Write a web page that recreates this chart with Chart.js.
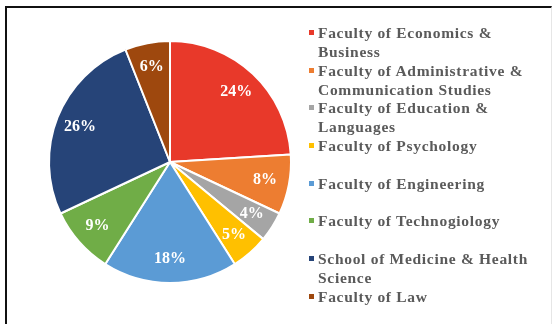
<!DOCTYPE html>
<html lang="en">
<head>
    <meta charset="UTF-8">
    <title>Students by Faculty</title>
    <script src="https://cdn.jsdelivr.net/npm/chart.js"></script>
    <style>
        html, body { margin: 0; padding: 0; background: #fff; }
        .frame {
            position: absolute;
            left: 5px; top: 6px;
            width: 547px; height: 330px;
            border-top: 2px solid #111;
            border-left: 2px solid #111;
            border-right: 1px solid #e6e6e6;
            box-sizing: border-box;
        }
        .wrap { position: relative; width: 557px; height: 324px; overflow: hidden; }
        #pie { position: absolute; left: 0; top: 0; }
        #legend {
            position: absolute;
            left: 309px; top: 23px;
            font-family: "Liberation Serif", "Times New Roman", serif;
            font-weight: bold;
            font-size: 15.5px;
            letter-spacing: 0.7px;
            color: #5a5a5a;
            white-space: nowrap;
        }
        .item { position: relative; height: 37.7px; line-height: 19px; padding-left: 9px; }
        .item .box { position: absolute; left: 0; top: 7px; width: 5px; height: 5px; }
    </style>
</head>
<body>
<div class="wrap">
    <div class="frame"></div>
    <canvas id="pie" width="557" height="324"></canvas>
    <div id="legend"></div>
</div>

<script>
    // faculty names, split where the legend wraps them
    const faculties = [
        ["Faculty of Economics &", "Business"],
        ["Faculty of Administrative &", "Communication Studies"],
        ["Faculty of Education &", "Languages"],
        ["Faculty of Psychology"],
        ["Faculty of Engineering"],
        ["Faculty of Technogiology"],
        ["School of Medicine & Health", "Science"],
        ["Faculty of Law"]
    ];
    const shares = [24, 8, 4, 5, 18, 9, 26, 6];
    const colors = ["#E8392A", "#ED7D31", "#A5A5A5", "#FFC000", "#5B9BD5", "#70AD47", "#264478", "#9E480E"];

    // white percentage text inside each slice
    const sliceLabels = {
        id: "sliceLabels",
        afterDatasetsDraw(chart) {
            const ctx = chart.ctx;
            const meta = chart.getDatasetMeta(0);
            ctx.save();
            ctx.font = "bold 16px 'Liberation Serif', 'Times New Roman', serif";
            ctx.fillStyle = "#fff";
            ctx.textAlign = "center";
            ctx.textBaseline = "middle";
            meta.data.forEach((arc, i) => {
                const p = arc.getProps(["x", "y", "startAngle", "endAngle", "outerRadius"], true);
                const mid = (p.startAngle + p.endAngle) / 2;
                const r = p.outerRadius * 0.8;
                ctx.fillText(shares[i] + "%", p.x + Math.cos(mid) * r, p.y + Math.sin(mid) * r);
            });
            ctx.restore();
        }
    };

    new Chart(document.getElementById("pie"), {
        type: "pie",
        data: {
            labels: faculties,
            datasets: [{
                data: shares,
                backgroundColor: colors,
                borderColor: "#fff",
                borderWidth: 2
            }]
        },
        options: {
            responsive: false,
            animation: false,
            layout: { padding: { left: 48, right: 265, top: 40, bottom: 40 } },
            plugins: {
                legend: { display: false },
                tooltip: { enabled: false }
            }
        },
        plugins: [sliceLabels]
    });

    // legend on the right
    const legend = document.getElementById("legend");
    faculties.forEach((lines, i) => {
        const item = document.createElement("div");
        item.className = "item";
        const box = document.createElement("span");
        box.className = "box";
        box.style.background = colors[i];
        item.appendChild(box);
        lines.forEach(line => {
            const row = document.createElement("div");
            row.textContent = line;
            item.appendChild(row);
        });
        legend.appendChild(item);
    });
</script>
</body>
</html>
